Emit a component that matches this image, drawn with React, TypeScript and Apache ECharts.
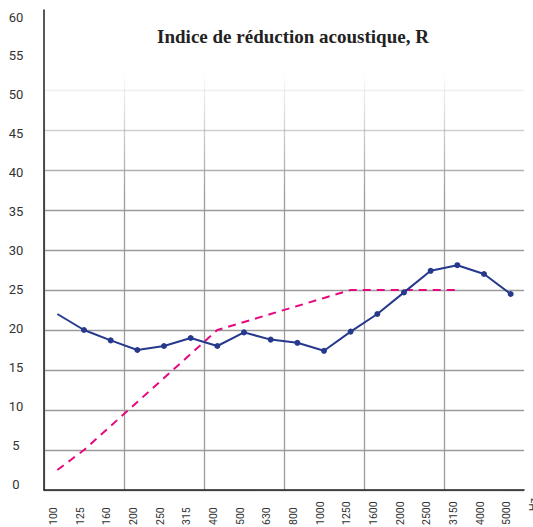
import React, { useEffect, useRef } from "react";
import * as echarts from "echarts";

const frequencies = ["100", "125", "160", "200", "250", "315", "400", "500", "630", "800", "1000", "1250", "1600", "2000", "2500", "3150", "4000", "5000"];
const measuredR = [22, 20.0, 18.7, 17.5, 18.0, 19.0, 18.0, 19.7, 18.8, 18.4, 17.4, 19.8, 22.0, 24.7, 27.4, 28.1, 27.0, 24.5];
const referenceCurve = [2.5, 5, 8, 11, 14, 17, 20, 21, 22, 23, 24, 25, 25, 25, 25, 25];
const titleText = "Indice de réduction acoustique, R";

export default function App() {
  const ref = useRef<HTMLDivElement>(null);
  useEffect(() => {
    document.body.style.margin = "0";
    if (!ref.current) return;
    const chart = echarts.init(ref.current, null, { renderer: "svg" });
    const gridGrad = {
      type: "linear",
      x: 0,
      y: 72,
      x2: 0,
      y2: 195,
      global: true,
      colorStops: [
        { offset: 0, color: "rgba(155,155,155,0)" },
        { offset: 1, color: "rgba(155,155,155,1)" },
      ],
    };
    const labelFont = "Roboto, 'Noto Sans', sans-serif";
    chart.setOption({
      animation: false,
      backgroundColor: "#ffffff",
      title: {
        text: titleText,
        left: 288,
        top: 22,
        textAlign: "center",
        textStyle: {
          fontFamily: "'Liberation Serif', 'DejaVu Serif', serif",
          fontWeight: "bold",
          fontSize: 19,
          color: "#222",
        },
      },
      grid: [
        { left: 44, top: 10, width: 480, height: 480, outerBoundsMode: "none" },
        { left: 40, top: 17, width: 480, height: 467, outerBoundsMode: "none" },
      ],
      xAxis: [
        {
          type: "category",
          gridIndex: 0,
          data: frequencies,
          boundaryGap: true,
          name: "Hz",
          nameLocation: "end",
          nameRotate: 90,
          nameGap: 4,
          nameTextStyle: {
            fontFamily: labelFont,
            fontSize: 11,
            color: "#333",
            align: "right",
            verticalAlign: "top",
            padding: [0, 8, 0, 0],
          },
          axisLine: { show: true, lineStyle: { color: "#222", width: 1.5 } },
          axisTick: { show: false },
          axisLabel: { show: false },
          splitLine: {
            show: true,
            interval: 2,
            showMaxLine: false,
            lineStyle: { color: gridGrad, width: 1.3 },
          },
        },
        {
          type: "category",
          gridIndex: 1,
          data: frequencies,
          boundaryGap: true,
          axisLine: { show: false },
          axisTick: { show: false },
          splitLine: { show: false },
          axisLabel: {
            interval: 0,
            rotate: 90,
            align: "left",
            margin: 41,
            fontFamily: labelFont,
            fontSize: 10.5,
            color: "#333",
          },
        },
      ],
      yAxis: [
        {
          type: "value",
          gridIndex: 0,
          min: 0,
          max: 60,
          interval: 5,
          axisLine: { show: true, lineStyle: { color: "#222", width: 1.5 } },
          axisTick: { show: false },
          axisLabel: { show: false },
          splitLine: { show: true, showMaxLine: false, lineStyle: { color: gridGrad, width: 1.3 } },
        },
        {
          type: "value",
          gridIndex: 1,
          min: 0,
          max: 60,
          interval: 5,
          axisLine: { show: false },
          axisTick: { show: false },
          splitLine: { show: false },
          axisLabel: {
            align: "center",
            margin: 24,
            fontFamily: labelFont,
            fontSize: 13,
            color: "#333",
          },
        },
      ],
      series: [
        {
          type: "line",
          name: "Référence",
          xAxisIndex: 0,
          yAxisIndex: 0,
          data: referenceCurve,
          symbol: "none",
          lineStyle: { color: "#e6087f", width: 2, type: [8, 6] },
          z: 2,
        },
        {
          type: "line",
          name: "R",
          xAxisIndex: 0,
          yAxisIndex: 0,
          data: measuredR.map((v, i) => (i === 0 ? { value: v, symbol: "none" } : v)),
          symbol: "circle",
          symbolSize: 6,
          itemStyle: { color: "#26398c" },
          lineStyle: { color: "#26398c", width: 2 },
          z: 3,
        },
      ],
    });
    return () => chart.dispose();
  }, []);
  return <div ref={ref} style={{ width: 533, height: 527 }} />;
}
